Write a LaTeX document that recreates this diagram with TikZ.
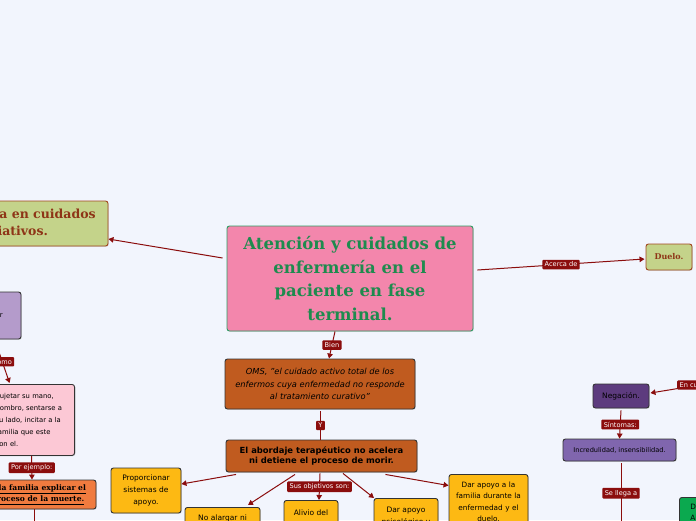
\documentclass[tikz,border=0pt]{standalone}
\usepackage{fontspec}
\setmainfont{DejaVu Sans}
\newfontfamily\slab{DejaVu Serif}
\usetikzlibrary{arrows.meta,calc,shadows}

\definecolor{bg}{HTML}{F2F5FD}
\definecolor{linkc}{HTML}{8B0D0D}
\definecolor{cpink}{HTML}{F386AC}
\definecolor{cgreenb}{HTML}{2F9B63}
\definecolor{cgreent}{HTML}{1E8B4E}
\definecolor{olive}{HTML}{C4D38A}
\definecolor{oliveb}{HTML}{A0461E}
\definecolor{olivet}{HTML}{8E3517}
\definecolor{lav}{HTML}{B49BCB}
\definecolor{lpink}{HTML}{FCC8D5}
\definecolor{orng}{HTML}{F07B3F}
\definecolor{brn}{HTML}{C05B1F}
\definecolor{ylw}{HTML}{FDB913}
\definecolor{dpur}{HTML}{5D3B7E}
\definecolor{mpur}{HTML}{8066AE}
\definecolor{grn}{HTML}{0BA94F}
\definecolor{bord}{HTML}{333333}

\tikzset{
  box/.style={draw=bord, line width=0.9pt, rounded corners=2.5pt, align=center, inner sep=3pt,
    drop shadow={shadow xshift=0.8pt,shadow yshift=-0.8pt,opacity=0.25}},
  lab/.style={fill=linkc, text=white, font=\fontsize{6.6}{7.5}\selectfont, inner xsep=2.4pt, inner ysep=2.2pt, rounded corners=1pt},
  conn/.style={draw=linkc, line width=1pt},
  arr/.style={conn, -{Triangle[length=5pt,width=5.5pt]}},
  ybox/.style={box, fill=ylw, font=\fontsize{7.5}{12}\selectfont},
}

\begin{document}
\begin{tikzpicture}[x=1pt,y=-1pt]
\useasboundingbox (0,0) rectangle (696,520);
\clip (0,0) rectangle (696,520);
\fill[bg] (0,0) rectangle (696,520);

% main nodes
\node[box, fill=cpink, draw=cgreenb, text=cgreent, minimum width=246pt, minimum height=105pt,
  font=\slab\bfseries\fontsize{16.5}{23.5}\selectfont] (central) at (350,278.5)
  {Atención y cuidados de\\enfermería en el\\paciente en fase\\terminal.};

\node[box, fill=olive, draw=oliveb, text=olivet, minimum width=192pt, minimum height=45pt,
  font=\slab\bfseries\fontsize{12.5}{17}\selectfont] (pal) at (12,223.5)
  {Enfermería en cuidados\\paliativos.};

\node[box, fill=olive, draw=oliveb, text=olivet, minimum width=46pt, minimum height=26pt, inner sep=1pt,
  font=\slab\bfseries\fontsize{8}{10}\selectfont] (duelo) at (669,257) {Duelo.};

\node[box, fill=lav, minimum width=68pt, minimum height=47pt, font=\fontsize{7}{12}\selectfont] (contacto) at (-13,315.5)
  {Saber\\escuchar\\y tocar.};

\node[box, fill=lpink, anchor=north east, text width=76pt, align=left, minimum height=71pt,
  font=\fontsize{6.8}{11.8}\selectfont] (pink) at (75,384)
  {Sujetar su mano,\\hombro, sentarse a\\su lado, incitar a la\\familia que este\\con el.};

\node[box, fill=orng, minimum width=116pt, minimum height=29pt, font=\slab\bfseries\fontsize{7.6}{11}\selectfont] (orng) at (38,494.5)
  {\underline{A la familia explicar el}\\\underline{proceso de la muerte.}};

\node[box, fill=brn, minimum width=190pt, minimum height=50pt, font=\itshape\fontsize{8.3}{12.8}\selectfont] (oms) at (320,384)
  {OMS, "el cuidado activo total de los\\enfermos cuya enfermedad no responde\\al tratamiento curativo"};

\node[box, fill=brn, minimum width=191pt, minimum height=32pt, font=\bfseries\fontsize{8.4}{10.5}\selectfont] (abord) at (321.5,456)
  {El abordaje terapéutico no acelera\\ni detiene el proceso de morir.};

% children
\node[ybox, minimum width=70pt, minimum height=45pt] (prop) at (146,490.5) {Proporcionar\\sistemas de\\apoyo.};
\node[ybox, anchor=north, text width=69pt, inner ysep=7pt] (alargar) at (222.5,507) {No alargar ni\\acortar la\\vida.};
\node[ybox, anchor=north, text width=48pt, inner ysep=9pt] (alivio) at (311,500) {Alivio del\\dolor y otros\\síntomas.};
\node[ybox, anchor=north, text width=58pt, inner ysep=9pt] (psico) at (406,498) {Dar apoyo\\psicológico y\\espiritual.};
\node[ybox, anchor=north, text width=73pt, inner ysep=7pt, font=\fontsize{7.3}{11.5}\selectfont] (fam) at (488.5,474)
  {Dar apoyo a la\\familia durante la\\enfermedad y el\\duelo.};

% right side
\node[box, fill=dpur, minimum width=56pt, minimum height=24pt, font=\fontsize{7.5}{9}\selectfont] (neg) at (621,396) {Negación.};
\node[box, fill=mpur, minimum width=113pt, minimum height=22pt, font=\fontsize{6.6}{8}\selectfont] (incr) at (619.5,450) {Incredulidad, insensibilidad.};
\node[box, fill=grn, anchor=north west, text width=60pt, align=left, inner xsep=11pt, inner ysep=6pt,
  font=\fontsize{7.3}{11}\selectfont] (green) at (679,497) {Depresión\\Aislamiento.};

% connectors
\draw[arr] ($(central.west)+(-4,-20.5)$) -- ($(pal.east)+(0,15.5)$);
\draw[arr] ($(central.east)+(4,-8.5)$) -- node[lab]{Acerca de} ($(duelo.west)+(-1,2)$);
\draw[arr] ($(contacto.south)+(8,1)$) -- node[lab]{Como} ($(pink.north)+(-24,-1)$);
\draw[arr] ($(pink.south)+(-2,0)$) -- node[lab]{Por ejemplo:} ($(orng.north)+(-6,0)$);
\coordinate (obot) at (34,540);
\draw[conn] ($(orng.south)+(-4,0)$) -- (obot);

\draw[arr] ($(central.south)+(-15,0)$) -- node[lab]{Bien} ($(oms.north)+(9,0)$);
\draw[conn] ($(oms.south)+(0.5,2)$) -- node[lab]{Y} ($(abord.north)+(-1,0)$);

\draw[arr] ($(abord.south)+(-85.5,2)$) -- ($(prop.east)+(0,-6.5)$);
\draw[arr] ($(abord.south)+(-26.5,2)$) -- ($(alargar.north)+(25.5,-2)$);
\draw[arr] ($(abord.south)+(-1.5,1)$) -- node[lab]{Sus objetivos son:} ($(alivio.north)+(8,0)$);
\draw[arr] ($(abord.south)+(21.5,1)$) -- ($(psico.north)+(-32,0)$);
\draw[arr] ($(abord.south)+(64,2)$) -- ($(fam.west)+(0,-16)$);

\coordinate (enc) at (748,377);
\draw[arr] (enc) -- node[lab]{En cuanto a} ($(neg.east)+(1,-3)$);
\draw[arr] ($(neg.south)+(0,2)$) -- node[lab]{Síntomas:} (incr.north);
\coordinate (sll) at (621,523);
\draw[conn] ($(incr.south)+(1.5,2)$) -- node[lab]{Se llega a} (sll);
\end{tikzpicture}
\end{document}
